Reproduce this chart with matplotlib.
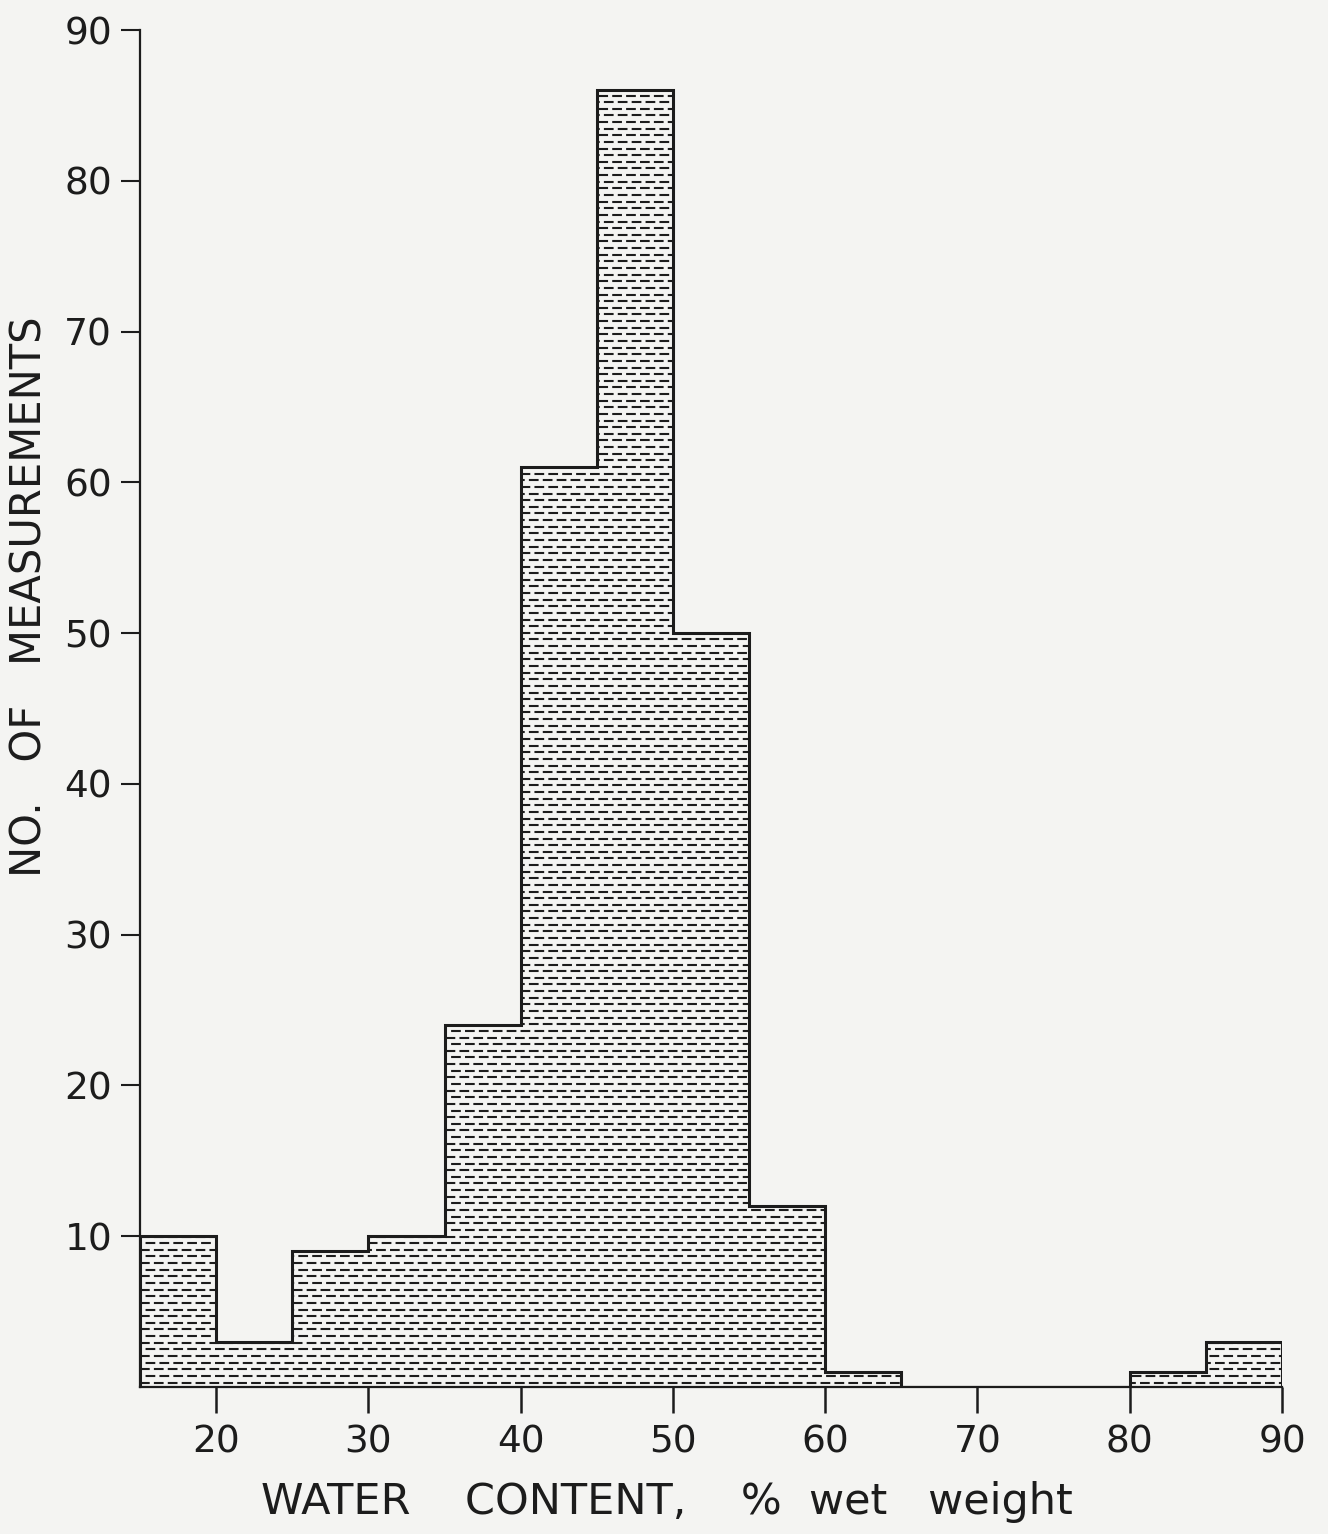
import numpy as np
import matplotlib
matplotlib.use("Agg")
import matplotlib.pyplot as plt
from matplotlib.collections import LineCollection

plt.rcParams["font.family"] = ["DejaVu Sans"]
plt.rcParams["lines.scale_dashes"] = False

# 5 % bins of water content and the count in each
bin_edges = [15, 20, 25, 30, 35, 40, 45, 50, 55, 60, 65, 70, 75, 80, 85, 90]
counts = [10, 3, 9, 10, 24, 61, 86, 50, 12, 1, 0, 0, 0, 1, 3]
x_ticks = [20, 30, 40, 50, 60, 70, 80, 90]
y_ticks = [10, 20, 30, 40, 50, 60, 70, 80, 90]

ink = "#1c1c1c"
paper = "#f4f4f2"

fig = plt.figure(figsize=(13.28, 15.34), dpi=100, facecolor=paper)
ax = fig.add_axes([0.1054, 0.0958, 0.86, 0.8846])
ax.set_facecolor(paper)

# filled step outline, also used as clip path for the dashed shading
shade = ax.stairs(counts, bin_edges, fill=True, facecolor=paper,
                  edgecolor="none", zorder=1)

row_gap = 0.44
rows = np.arange(0.3, max(counts), row_gap)
for k, off in enumerate((0, 6)):
    segs = [[(bin_edges[0], r), (bin_edges[-1], r)] for r in rows[k::2]]
    lc = LineCollection(segs, colors=ink, linewidths=1.5,
                        linestyles=[(off, (7.0, 3.0))], zorder=2)
    lc.set_clip_path(shade)
    ax.add_collection(lc)

ax.stairs(counts, bin_edges, fill=False, edgecolor=ink, linewidth=2.2,
          zorder=3)

ax.set_xlim(15, 90)
ax.set_ylim(0, 90)
ax.set_xticks(x_ticks)
ax.set_yticks(y_ticks)

for side in ("top", "right"):
    ax.spines[side].set_visible(False)
for side in ("left", "bottom"):
    ax.spines[side].set_color(ink)
    ax.spines[side].set_linewidth(1.6)

ax.tick_params(axis="y", direction="out", length=14, width=1.5, color=ink,
               pad=6, labelsize=27, labelcolor=ink)
ax.tick_params(axis="x", direction="out", length=19, width=1.8, color=ink,
               pad=8, labelsize=27, labelcolor=ink)

fig.text(0.022, 0.611, "NO.   OF   MEASUREMENTS", rotation=90, ha="center",
         va="center", fontsize=30, color=ink)
fig.text(0.502, 0.021, "WATER    CONTENT,    %  wet   weight", ha="center",
         va="center", fontsize=31, color=ink)

fig.savefig("out.png", dpi=100, facecolor=paper)
